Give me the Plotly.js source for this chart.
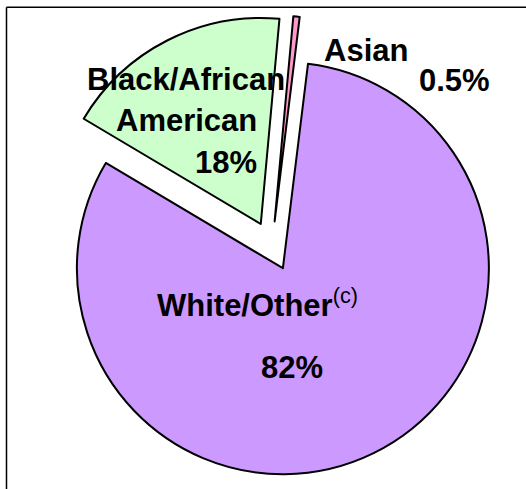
<!DOCTYPE html>
<html>
<head>
<meta charset="utf-8">
<script src="https://cdn.plot.ly/plotly-3.0.1.min.js"></script>
<style>
html,body{margin:0;padding:0;background:#fff;}
#chart{width:526px;height:489px;}
</style>
</head>
<body>
<div id="chart"></div>
<script>
// Data
const categories = ["White/Other", "Black/African American", "Asian"];
const values = [82, 18, 0.5];
const percentLabels = ["82%", "18%", "0.5%"];
const colors = ["#CC99FF", "#CCFFCC", "#FF99CC"];

const FONT = "Liberation Sans, Arial, sans-serif";
const W = 526, H = 489;
function px(x){return x / W;}
function py(y){return 1 - y / H;}

const trace = {
  type: "pie",
  labels: categories,
  values: values,
  sort: false,
  direction: "clockwise",
  rotation: 7,
  pull: [0.12, 0.12, 0.12],
  marker: {colors: colors, line: {color: "#000000", width: 2}},
  textinfo: "none",
  hoverinfo: "label+percent",
  domain: {x: [0.0785, 0.9557], y: [0.0251, 0.9687]}
};

function ann(text, x, y, size, bold) {
  return {
    text: bold ? "<b>" + text + "</b>" : text,
    x: px(x), y: py(y), xref: "paper", yref: "paper",
    xanchor: "center", yanchor: "middle",
    showarrow: false,
    font: {family: FONT, size: size, color: "#000000"}
  };
}

const annotations = [
  ann("Black/African", 186, 79, 31, true),
  ann("American", 186.5, 120, 31, true),
  ann(percentLabels[1], 226, 162, 31, true),
  ann(categories[2], 365.5, 51, 31, true),
  ann(percentLabels[2], 454, 81, 31, true),
  {
    text: "<b>" + categories[0] + "</b><sup>(c)</sup>",
    x: px(257), y: py(303), xref: "paper", yref: "paper",
    xanchor: "center", yanchor: "middle", showarrow: false,
    font: {family: FONT, size: 31, color: "#000000"}
  },
  ann(percentLabels[0], 291.5, 367, 31, true)
];

const layout = {
  width: W, height: H,
  margin: {l: 0, r: 0, t: 0, b: 0},
  paper_bgcolor: "#ffffff",
  showlegend: false,
  annotations: annotations,
  shapes: [
    {type: "line", xref: "paper", yref: "paper", x0: px(6.5), x1: 1, y0: py(7.2), y1: py(7.2), line: {color: "#000", width: 1.5}},
    {type: "line", xref: "paper", yref: "paper", x0: px(6.5), x1: px(6.5), y0: py(7.2), y1: 0, line: {color: "#000", width: 1.5}}
  ]
};

Plotly.newPlot("chart", [trace], layout, {displayModeBar: false, staticPlot: true});
</script>
</body>
</html>
